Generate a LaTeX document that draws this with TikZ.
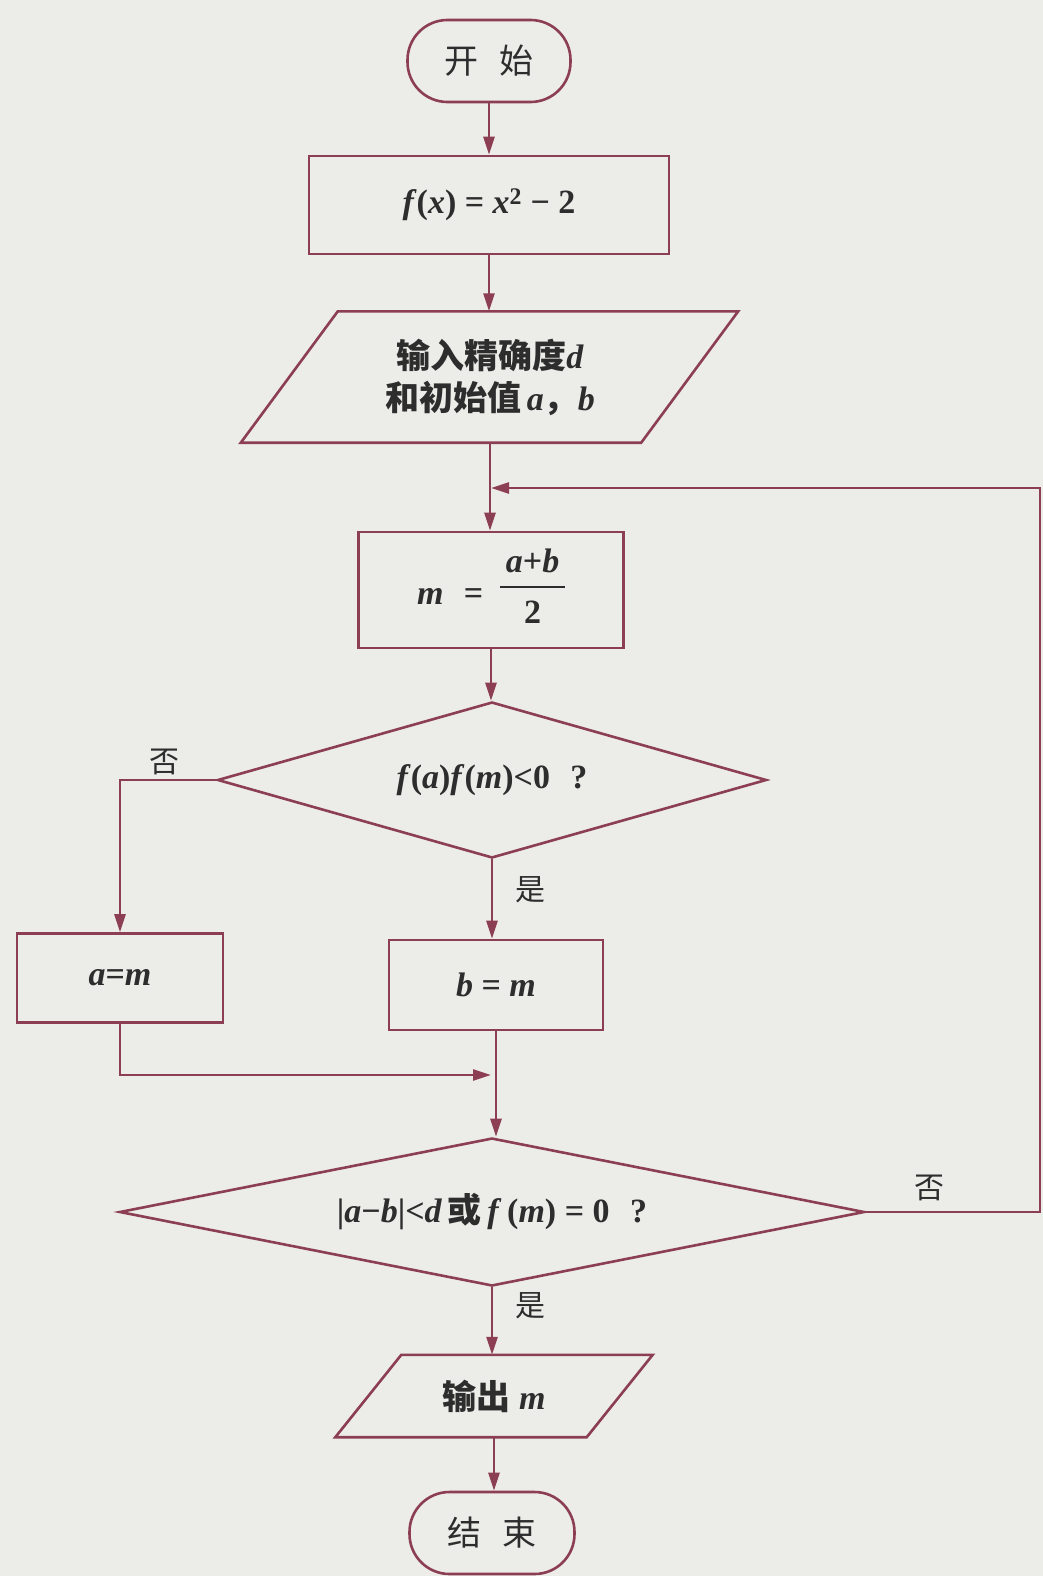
\documentclass[tikz,border=0pt]{standalone}
\usepackage{fontspec}
\setmainfont{Liberation Serif}
\newfontfamily\cjk{Noto Sans CJK SC}
\usetikzlibrary{shapes.geometric,arrows.meta}
\definecolor{ln}{RGB}{140,62,82}
\definecolor{bg}{RGB}{236,236,233}
\definecolor{tx}{RGB}{45,45,45}
\newcommand\vv[1]{\textit{#1}}
\newcommand\mfrac{\raisebox{0.25em}{\setlength{\arrayrulewidth}{2pt}\begin{tabular}[c]{@{\,}c@{\,}}\vv{a}+\vv{b}\\[2pt]\hline\rule{0pt}{1.05em}2\end{tabular}}}
\begin{document}
\begin{tikzpicture}[x=1pt,y=-1pt,
  every node/.style={text=tx,font=\fontsize{34}{40}\selectfont\bfseries},
  term/.style={draw=ln,line width=2.6pt,rounded corners=40pt,minimum width=163pt,minimum height=82pt,inner sep=0pt},
  proc/.style={draw=ln,line width=2.6pt,inner sep=0pt},
  iobox/.style={inner sep=0pt,align=center},
  dec/.style={draw=ln,line width=2.6pt,diamond,inner sep=0pt},
  lbl/.style={font=\fontsize{30}{36}\selectfont\cjk},
  conn/.style={draw=ln,line width=2.6pt},
  arr/.style={conn,-{Triangle[length=18pt,width=11pt]}}]
\fill[bg] (0,0) rectangle (1043,1576);
\useasboundingbox (0,0) rectangle (1043,1576);
% nodes
\node[term] (start) at (489,61) {\cjk\mdseries 开\hspace{0.6em}始};
\node[proc,minimum width=360pt,minimum height=98pt] (f) at (489,205)
  {\vv{f}(\vv{x}) = \vv{x}\textsuperscript{2} − 2};
\node[iobox,minimum width=400pt,minimum height=131pt] (in) at (490,377)
  {{\cjk\bfseries 输入精确度}\vv{d}\\[2pt]{\cjk\bfseries 和初始值}\,\vv{a}{\cjk\bfseries ，}\vv{b}};
\draw[conn] ([xshift=48pt]in.north west) -- ([xshift=48pt]in.north east)
  -- ([xshift=-49pt]in.south east) -- ([xshift=-49pt]in.south west) -- cycle;
\node[proc,minimum width=265pt,minimum height=116pt] (m) at (491,590)
  {\vv{m}\hspace{0.6em}=\hspace{0.5em}\mfrac};
\node[dec,aspect=3.5,minimum width=549pt,minimum height=156pt] (d1) at (492,780)
  {\vv{f}(\vv{a})\vv{f}(\vv{m})<0\hspace{0.6em}?};
\node[proc,minimum width=206pt,minimum height=89pt] (am) at (120,978) {\vv{a}=\vv{m}};
\node[proc,minimum width=214pt,minimum height=90pt] (bm) at (496,985) {\vv{b} = \vv{m}};
\node[dec,aspect=5,minimum width=745pt,minimum height=148pt] (d2) at (492,1212)
  {|\vv{a}−\vv{b}|<\vv{d}\,{\cjk\bfseries 或}\,\vv{f}\,(\vv{m}) = 0\hspace{0.6em}?};
\node[iobox,minimum width=251pt,minimum height=82pt] (out) at (494,1396)
  {{\cjk\bfseries 输出} \vv{m}};
\draw[conn] ([xshift=33pt]out.north west) -- ([xshift=33pt]out.north east)
  -- ([xshift=-33pt]out.south east) -- ([xshift=-33pt]out.south west) -- cycle;
\node[term,minimum width=165pt,minimum height=82pt] (end) at (492,1533) {\cjk\mdseries 结\hspace{0.6em}束};
% coordinates
\coordinate (lp) at (491,488);
\coordinate (rtop) at (1040,488);
\coordinate (mj) at (491,1075);
% connectors
\draw[arr] (start) -- (start|-f.north);
\draw[arr] (f) -- (f|-in.north);
\draw[arr] (in) -- (in|-m.north);
\draw[arr] (d2.east) -| (rtop) -- (lp);
\draw[arr] (m) -- (m|-d1.north);
\draw[arr] (d1.west) -| (am.north);
\draw[arr] (d1.south) -- (d1.south|-bm.north);
\draw[arr] (am.south) |- (mj);
\draw[arr] (bm.south) -- (bm.south|-d2.north);
\draw[arr] (d2.south) -- (d2.south|-out.north);
\draw[arr] (out) -- (out|-end.north);
% labels
\node[lbl] at (164,762) {否};
\node[lbl] at (530,890) {是};
\node[lbl] at (929,1188) {否};
\node[lbl] at (530,1306) {是};
\end{tikzpicture}
\end{document}
